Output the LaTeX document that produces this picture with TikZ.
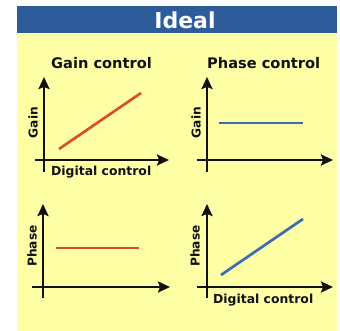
\documentclass[tikz,border=0pt]{standalone}
\usepackage{fontspec}
\setmainfont{DejaVu Sans}
\usetikzlibrary{arrows.meta}
\definecolor{band}{HTML}{2E5B9A}
\definecolor{panel}{HTML}{FFFFA6}
\definecolor{redline}{HTML}{D9512C}
\definecolor{blueline}{HTML}{3B6DB5}
\definecolor{ink}{HTML}{111111}
\tikzset{
  axisline/.style={draw=ink, line width=2.3pt, -{Stealth[length=12pt,width=11pt,inset=2pt]}},
  curvered/.style={draw=redline, line width=2.7pt},
  curveblue/.style={draw=blueline, line width=2.7pt},
  titletext/.style={inner sep=0pt, anchor=north west, font=\bfseries\fontsize{14.6}{16}\selectfont, text=ink},
  xlabeltext/.style={inner sep=0pt, anchor=north west, font=\bfseries\fontsize{12.4}{14}\selectfont, text=ink},
  ylabeltext/.style={inner sep=0pt, rotate=90, font=\bfseries\fontsize{12.2}{14}\selectfont, text=ink},
}
\begin{document}
\begin{tikzpicture}[x=1pt,y=-1pt]
\useasboundingbox (0,0) rectangle (340,331);
\fill[white] (0,0) rectangle (340,331);
\fill[panel] (17,33) rectangle (337,331);
\fill[band] (17,6) rectangle (337,33);
\node[inner sep=0pt, text=white, font=\bfseries\fontsize{22}{24}\selectfont] (title) at (185,20) {Ideal};

% top-left: gain control, gain
\node[titletext] (tgain) at (51,57) {Gain control};
\coordinate (a1b) at (44,172); \coordinate (a1t) at (44,77);
\coordinate (a1l) at (35,160); \coordinate (a1r) at (169,160);
\draw[axisline] (a1b) -- (a1t);
\draw[axisline] (a1l) -- (a1r);
\coordinate (r1s) at (59,149); \coordinate (r1e) at (141,93);
\draw[curvered] (r1s) -- (r1e);
\node[ylabeltext] (yl1) at (33,122.5) {Gain};
\node[xlabeltext] (xl1) at (51,166) {Digital control};

% top-right: phase control, gain
\node[titletext] (tphase) at (207,57) {Phase control};
\coordinate (a2b) at (207,172); \coordinate (a2t) at (207,77);
\coordinate (a2l) at (197,160); \coordinate (a2r) at (333,160);
\draw[axisline] (a2b) -- (a2t);
\draw[axisline] (a2l) -- (a2r);
\coordinate (b2s) at (219,123); \coordinate (b2e) at (303,123);
\draw[curveblue] (b2s) -- (b2e);
\node[ylabeltext] (yl2) at (196,122.5) {Gain};

% bottom-left: gain control, phase
\coordinate (a3b) at (43,298); \coordinate (a3t) at (43,204);
\coordinate (a3l) at (32,287); \coordinate (a3r) at (170,287);
\draw[axisline] (a3b) -- (a3t);
\draw[axisline] (a3l) -- (a3r);
\coordinate (r3s) at (56,248); \coordinate (r3e) at (139,248);
\draw[curvered] (r3s) -- (r3e);
\node[ylabeltext] (yl3) at (32,246) {Phase};

% bottom-right: phase control, phase
\coordinate (a4b) at (207,298); \coordinate (a4t) at (207,204);
\coordinate (a4l) at (197,287); \coordinate (a4r) at (333,287);
\draw[axisline] (a4b) -- (a4t);
\draw[axisline] (a4l) -- (a4r);
\coordinate (b4s) at (221,275); \coordinate (b4e) at (303,219);
\draw[curveblue] (b4s) -- (b4e);
\node[ylabeltext] (yl4) at (195,246) {Phase};
\node[xlabeltext] (xl4) at (213,294) {Digital control};
\end{tikzpicture}
\end{document}
